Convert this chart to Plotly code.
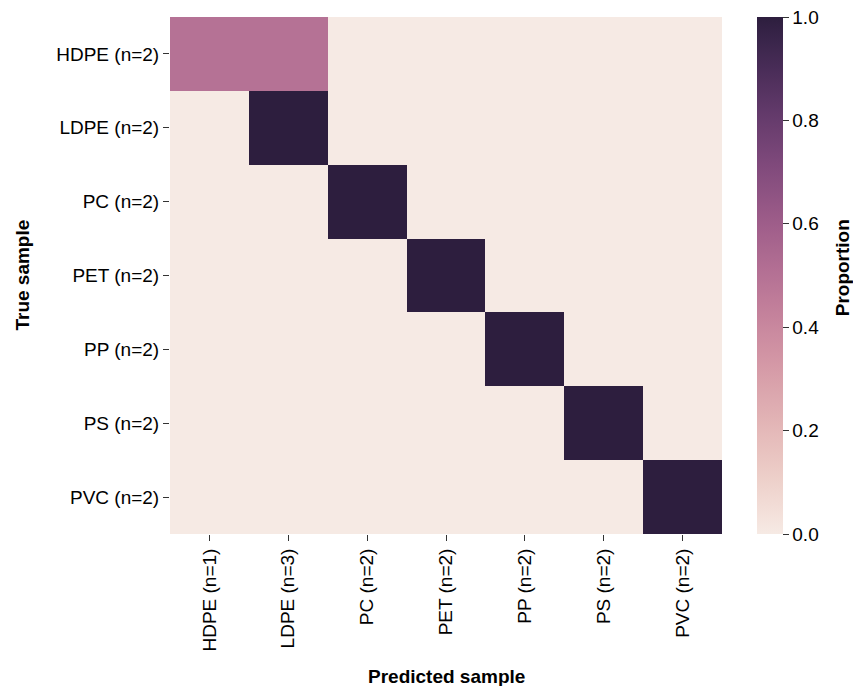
import math
import plotly.graph_objects as go

predicted_labels = ["HDPE (n=1)", "LDPE (n=3)", "PC (n=2)", "PET (n=2)", "PP (n=2)", "PS (n=2)", "PVC (n=2)"]
true_labels = ["HDPE (n=2)", "LDPE (n=2)", "PC (n=2)", "PET (n=2)", "PP (n=2)", "PS (n=2)", "PVC (n=2)"]

row_hdpe = [0.5, 0.5, 0, 0, 0, 0, 0]
row_ldpe = [0, 1, 0, 0, 0, 0, 0]
row_pc = [0, 0, 1, 0, 0, 0, 0]
row_pet = [0, 0, 0, 1, 0, 0, 0]
row_pp = [0, 0, 0, 0, 1, 0, 0]
row_ps = [0, 0, 0, 0, 0, 1, 0]
row_pvc = [0, 0, 0, 0, 0, 0, 1]
proportions = [row_hdpe, row_ldpe, row_pc, row_pet, row_pp, row_ps, row_pvc]

colorbar_ticks = [0, 0.2, 0.4, 0.6, 0.8, 1.0]
colorbar_ticktext = ["0.0", "0.2", "0.4", "0.6", "0.8", "1.0"]


def cubehelix(x, start=0.0, rot=0.4, hue=0.8, gamma=1.0):
    xg = x ** gamma
    a = hue * xg * (1 - xg) / 2
    phi = 2 * math.pi * (start / 3 + rot * x)
    r = xg + a * (-0.14861 * math.cos(phi) + 1.78277 * math.sin(phi))
    g = xg + a * (-0.29227 * math.cos(phi) - 0.90649 * math.sin(phi))
    b = xg + a * (1.97294 * math.cos(phi))
    clip = lambda v: max(0, min(255, round(v * 255)))
    return f"rgb({clip(r)},{clip(g)},{clip(b)})"


light, dark = 0.93, 0.15
n = 32
colorscale = [[i / (n - 1), cubehelix(light + (dark - light) * i / (n - 1))] for i in range(n)]

FONT = "Liberation Sans, Arial, Helvetica, sans-serif"
FS = 19

fig = go.Figure(
    go.Heatmap(
        z=proportions,
        x=predicted_labels,
        y=true_labels,
        zmin=0,
        zmax=1,
        colorscale=colorscale,
        hoverinfo="skip",
        colorbar=dict(
            thickness=26,
            len=1.0,
            lenmode="fraction",
            y=0.5,
            yanchor="middle",
            x=1.0634,
            xanchor="left",
            xpad=0,
            ypad=0,
            outlinewidth=0,
            ticks="outside",
            ticklen=6,
            tickcolor="#333",
            tickvals=colorbar_ticks,
            ticktext=colorbar_ticktext,
            ticklabeloverflow="allow",
            tickfont=dict(size=FS, color="#000"),
        ),
    )
)

fig.update_layout(
    width=853,
    height=686,
    margin=dict(l=170, r=131, t=17, b=152),
    paper_bgcolor="white",
    plot_bgcolor="white",
    font=dict(family=FONT, size=FS, color="#000"),
    annotations=[
        dict(text="<b>True sample</b>", x=-0.268, y=0.5, xref="paper", yref="paper",
             xanchor="center", yanchor="middle", textangle=-90, showarrow=False,
             font=dict(size=FS)),
        dict(text="<b>Predicted sample</b>", x=0.5, y=-0.2747, xref="paper", yref="paper",
             xanchor="center", yanchor="middle", showarrow=False, font=dict(size=FS)),
        dict(text="<b>Proportion</b>", x=1.2174, y=0.514, xref="paper", yref="paper",
             xanchor="center", yanchor="middle", textangle=-90, showarrow=False,
             font=dict(size=FS)),
    ],
)
fig.update_xaxes(
    tickangle=-90,
    ticks="outside",
    ticklen=6,
    tickcolor="#333",
    showgrid=False,
    zeroline=False,
    showline=False,
    tickfont=dict(size=FS),
)
fig.update_yaxes(
    autorange="reversed",
    ticks="outside",
    ticklen=6,
    tickcolor="#333",
    showgrid=False,
    zeroline=False,
    showline=False,
    tickfont=dict(size=FS),
)

fig.write_html(
    "out.html",
    config={"displayModeBar": False},
    post_script="document.body.style.margin='0';document.body.style.overflow='hidden';",
)
